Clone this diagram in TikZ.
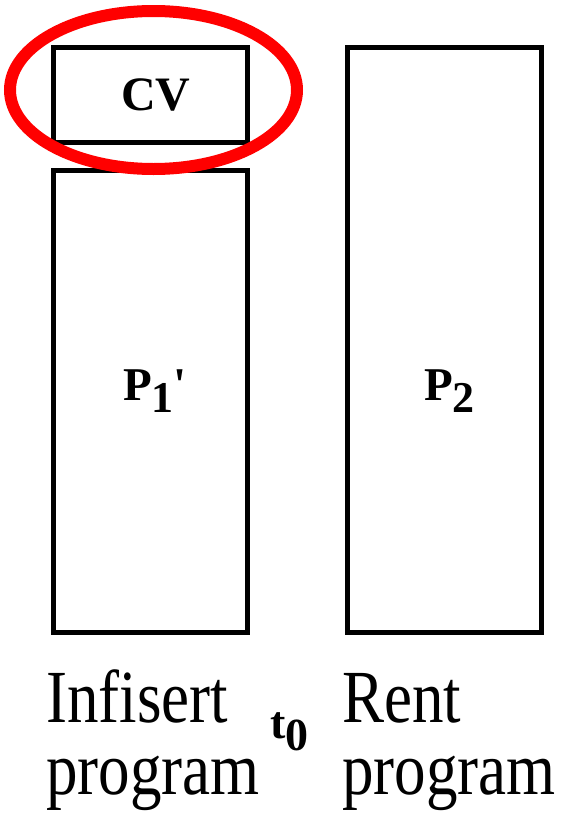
\documentclass[tikz,border=0pt]{standalone}
\usepackage{fontspec}
\setmainfont{Liberation Serif}
\usepackage{graphicx}

\newcommand{\tallrows}[1]{\scalebox{1}[1.19]{\begin{tabular}[t]{@{}l@{}}#1\end{tabular}}}
\newcommand{\lowsub}[2]{\raisebox{-#1}{\fontsize{44}{48}\selectfont #2}}

\begin{document}
\begin{tikzpicture}[x=1pt, y=-1pt,
    blk/.style={draw, line width=5pt, inner sep=0pt},
    tag/.style={anchor=base west, inner sep=0pt, font=\fontsize{47}{52}\selectfont\bfseries},
    lbl/.style={anchor=base west, inner sep=0pt, font=\fontsize{63}{61}\selectfont}]
  \useasboundingbox (0,0) rectangle (571,814);
  % boxes
  \node[blk, minimum width=194pt, minimum height=95pt] (cv) at (150.5,94.5) {};
  \node[blk, minimum width=194pt, minimum height=462pt] (p1) at (150.5,401) {};
  \node[blk, minimum width=194pt, minimum height=585pt] (p2) at (444.25,339.5) {};
  \node[tag, font=\fontsize{48}{52}\selectfont\bfseries] (cvtxt) at (121,110) {CV};
  \node[tag] (p1txt) at (123,400) {P\lowsub{12pt}{1}\textquotesingle};
  \node[tag] (p2txt) at (424,400) {P\lowsub{12pt}{2}};
  % highlight
  \draw[red, line width=12pt] (153.5,90) ellipse (143.5pt and 79pt);
  % labels
  \node[lbl] (infi) at (46,722) {\tallrows{Infisert\\program}};
  \node[lbl] (rent) at (342,722) {\tallrows{Rent\\program}};
  \node[tag, font=\fontsize{46}{48}\selectfont\bfseries] (t0) at (270,738) {t\raisebox{-12pt}{0}};
\end{tikzpicture}
\end{document}
